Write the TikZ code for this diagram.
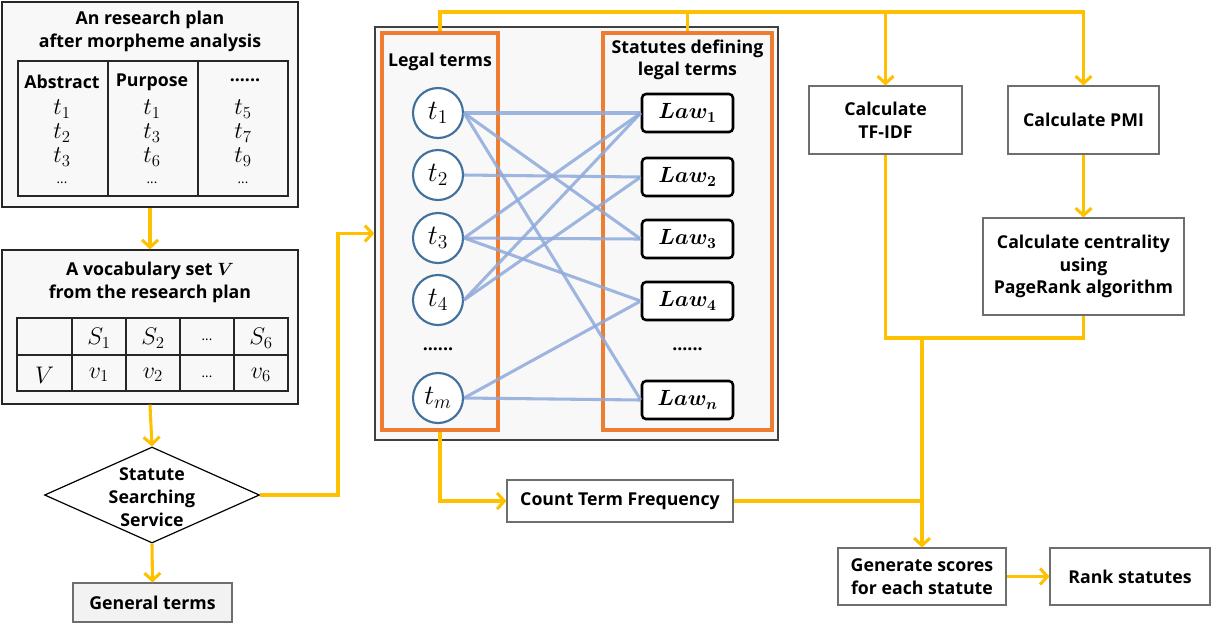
\RequirePackage{fix-cm}
\documentclass[tikz,border=0pt]{standalone}
\usepackage{fontspec}
\setmainfont{Open Sans}
\usepackage{bm}
\usetikzlibrary{arrows.meta,shapes.geometric}
\newcommand\pu{*0.75pt}
\definecolor{ylw}{RGB}{255,192,0}
\definecolor{org}{RGB}{237,125,49}
\definecolor{lnk}{RGB}{143,170,220}
\definecolor{circ}{RGB}{65,113,156}
\definecolor{pale}{RGB}{248,248,248}
\definecolor{gbord}{RGB}{110,110,110}
\tikzset{
  gbox/.style={draw=black!85, line width=1pt, fill=pale, inner sep=0pt},
  wbox/.style={draw=gbord, line width=0.8pt, fill=white, inner sep=0pt, align=center},
  tab/.style={draw=black!85, line width=1pt, fill=pale, inner sep=0pt},
  txt/.style={align=center, inner sep=0pt},
  mth/.style={inner sep=0pt, font=\fontsize{18}{20}\selectfont},
  sdots/.style={inner sep=0pt, font=\fontsize{10}{12}\selectfont\mdseries},
  obox/.style={draw=org, line width=2.3pt, inner sep=0pt},
  term/.style={circle, draw=circ, line width=1.6pt, fill=white, minimum size=50\pu, inner sep=0pt, font=\fontsize{21}{23}\selectfont},
  law/.style={draw=black, line width=1.9pt, rounded corners=3pt, fill=white, minimum width=91\pu, minimum height=38\pu, inner sep=0pt, font=\fontsize{16.5}{18}\selectfont},
  blink/.style={draw=lnk, line width=2.3pt, opacity=0.85},
  yl/.style={draw=ylw, line width=2.3pt},
  ya/.style={draw=ylw, line width=2.3pt, -{Straight Barb[length=5.5pt,width=12pt]}},
}
\begin{document}
\begin{tikzpicture}[x=0.75pt,y=-0.75pt, font=\fontsize{13.3}{17}\selectfont\bfseries]
\path[use as bounding box] (0,0) rectangle (1218,626);

% ---- research plan box
\node[gbox, minimum width=296\pu, minimum height=205\pu] (plan) at (150,104.5) {};
\node[txt] (planT) at (150,31.5) {An research plan\\after morpheme analysis};
\node[tab, minimum width=270\pu, minimum height=135\pu] (planTab) at (153,128.5) {};
\draw[black!85, line width=1pt] (108,61) -- (108,196) (198,61) -- (198,196);
\node[txt] (h1) at (62,82) {Abstract};
\node[txt] (h2) at (152,82) {Purpose};
\node[txt] (h3) at (245,80) {......};
\node[mth] (a1) at (62,109) {$t_1$};
\node[mth] (a2) at (62,133) {$t_2$};
\node[mth] (a3) at (62,157) {$t_3$};
\node[sdots] (a4) at (62,183) {...};
\node[mth] (b1) at (152,109) {$t_1$};
\node[mth] (b2) at (152,133) {$t_3$};
\node[mth] (b3) at (152,157) {$t_6$};
\node[sdots] (b4) at (152,183) {...};
\node[mth] (c1) at (243,109) {$t_5$};
\node[mth] (c2) at (243,133) {$t_7$};
\node[mth] (c3) at (243,157) {$t_9$};
\node[sdots] (c4) at (243,183) {...};

% ---- vocabulary box
\node[gbox, minimum width=296\pu, minimum height=154\pu] (vocab) at (150,327) {};
\node[txt] (vocT) at (150,282.5) {A vocabulary set $\bm{V}$\\from the research plan};
\node[tab, minimum width=271\pu, minimum height=73\pu] (vocTab) at (152.5,354.5) {};
\draw[black!85, line width=1pt] (17,355) -- (288,355)
  (72,318) -- (72,391) (126,318) -- (126,391) (180,318) -- (180,391) (234,318) -- (234,391);
\node[mth] (s1) at (99,338) {$S_1$};
\node[mth] (s2) at (153,338) {$S_2$};
\node[sdots] (s3) at (207,340) {...};
\node[mth] (s6) at (261,338) {$S_6$};
\node[mth] (vv) at (44.5,375) {$V$};
\node[mth] (v1) at (99,375) {$v_1$};
\node[mth] (v2) at (153,375) {$v_2$};
\node[sdots] (v3) at (207,377) {...};
\node[mth] (v6) at (261,375) {$v_6$};

% ---- diamond and general terms
\node[diamond, draw=black, line width=0.9pt, fill=white, minimum width=215\pu, minimum height=96\pu, inner sep=0pt] (dia) at (152,495) {};
\node[txt] (diaT) at (152,497) {Statute\\Searching\\Service};
\node[wbox, fill=black!5, minimum width=159\pu, minimum height=39\pu] (gen) at (152.5,602.5) {General terms};

% ---- big box
\node[gbox, draw=black!75, minimum width=403\pu, minimum height=413\pu] (big) at (576.5,233.5) {};
\node[obox, minimum width=116\pu, minimum height=397\pu] (lbox) at (440,231.5) {};
\node[obox, minimum width=169\pu, minimum height=397\pu] (rbox) at (687.5,231.5) {};
\node[txt] (lT) at (440,62) {Legal terms};
\node[txt] (rT) at (687.5,60) {Statutes defining\\legal terms};

\node[term] (t1) at (438,113) {$t_1$};
\node[term] (t2) at (438,175) {$t_2$};
\node[term] (t3) at (438,238) {$t_3$};
\node[term] (t4) at (438,300) {$t_4$};
\node[term] (tm) at (438,398) {$t_m$};
\node[txt] (tdots) at (438,349) {......};

\node[law] (L1) at (687.5,113) {$\bm{Law_1}$};
\node[law] (L2) at (687.5,177) {$\bm{Law_2}$};
\node[law] (L3) at (687.5,239) {$\bm{Law_3}$};
\node[law] (L4) at (687.5,301) {$\bm{Law_4}$};
\node[law] (Ln) at (687.5,400) {$\bm{Law_n}$};
\node[txt] (ldots) at (687.5,349) {......};

\draw[blink] (t1.east) -- (L1.west);
\draw[blink] (t1.east) -- (L3.west);
\draw[blink] (t1.east) -- (Ln.west);
\draw[blink] (t2.east) -- (L2.west);
\draw[blink] (t3.east) -- (L1.west);
\draw[blink] (t3.east) -- (L3.west);
\draw[blink] (t3.east) -- (L4.west);
\draw[blink] (t4.east) -- (L1.west);
\draw[blink] (t4.east) -- (L2.west);
\draw[blink] (tm.east) -- (L4.west);
\draw[blink] (tm.east) -- (Ln.west);

% ---- right side boxes
\node[wbox, minimum width=153\pu, minimum height=68\pu] (tfidf) at (885.5,120) {Calculate\\TF-IDF};
\node[wbox, minimum width=151\pu, minimum height=68\pu] (pmi) at (1083.5,120) {Calculate PMI};
\node[wbox, minimum width=201\pu, minimum height=97\pu] (cent) at (1083.5,266.5) {Calculate centrality\\using\\PageRank algorithm};
\node[wbox, minimum width=226\pu, minimum height=42\pu] (ctf) at (620,501) {Count Term Frequency};
\node[wbox, minimum width=168\pu, minimum height=57\pu] (score) at (922,576.5) {Generate scores\\for each statute};
\node[wbox, minimum width=160\pu, minimum height=57\pu] (rank) at (1130,576.5) {Rank statutes};

% ---- yellow connectors
\draw[ya] (plan.south) -- (vocab.north);
\draw[ya] (vocab.south) -- (dia.north);
\draw[ya] (dia.south) -- (gen.north);
\draw[ya] (dia.east) -- (338,495) -- (338,233.5) -- (big.west);
\draw[ya] (lbox.north) -- (440,12) -- (1083.5,12) -- (pmi.north);
\draw[yl] (rbox.north) -- (687.5,12);
\draw[ya] (885.5,12) -- (tfidf.north);
\draw[ya] (pmi.south) -- (cent.north);
\draw[yl] (tfidf.south) -- (885.5,338) -- (1083.5,338) -- (cent.south);
\draw[ya] (922,338) -- (score.north);
\draw[ya] (lbox.south) -- (440,501) -- (ctf.west);
\draw[yl] (ctf.east) -- (922,501);
\draw[ya] (score.east) -- (rank.west);
\end{tikzpicture}
\end{document}
